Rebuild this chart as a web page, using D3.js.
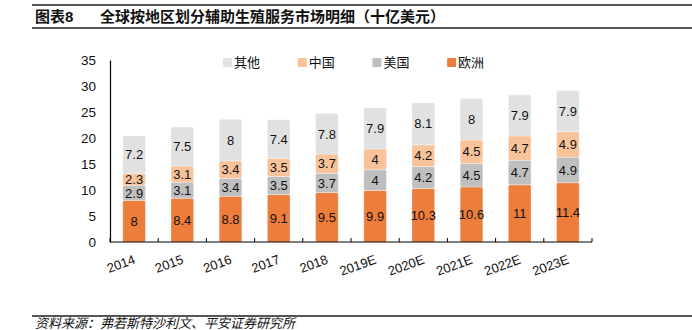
<!DOCTYPE html>
<html>
<head>
<meta charset="utf-8">
<script src="https://cdn.jsdelivr.net/npm/d3@7"></script>
<style>
  body { margin: 0; background: #fff; }
  svg { display: block; font-family: "Liberation Sans", Arial, "Noto Sans CJK SC", sans-serif; }
</style>
</head>
<body>
<svg id="chart" width="692" height="330"></svg>
<script>
// chart data
const years = ['2014', '2015', '2016', '2017', '2018', '2019E', '2020E', '2021E', '2022E', '2023E'];
const europe = [8, 8.4, 8.8, 9.1, 9.5, 9.9, 10.3, 10.6, 11, 11.4];
const usa = [2.9, 3.1, 3.4, 3.5, 3.7, 4, 4.2, 4.5, 4.7, 4.9];
const china = [2.3, 3.1, 3.4, 3.5, 3.7, 4, 4.2, 4.5, 4.7, 4.9];
const other = [7.2, 7.5, 8, 7.4, 7.8, 7.9, 8.1, 8, 7.9, 7.9];
const yTicks = [0, 5, 10, 15, 20, 25, 30, 35];

const seriesNames = ['欧洲', '美国', '中国', '其他'];
const legendOrder = ['其他', '中国', '美国', '欧洲'];
const colors = {
    '欧洲': '#ed7d3a',
    '美国': '#bfbfbf',
    '中国': '#f8c39b',
    '其他': '#e1e1e1'
};

const rows = years.map((y, i) => ({
    year: y, '欧洲': europe[i], '美国': usa[i], '中国': china[i], '其他': other[i]
}));
const stacked = d3.stack().keys(seriesNames)(rows);

const svg = d3.select('#chart');
const margin = {left: 110, right: 100, top: 60, bottom: 88};
const W = 692, H = 330;

const x = d3.scaleBand().domain(years)
    .range([margin.left, W - margin.right]).paddingInner(0.53).paddingOuter(0.265);
const y = d3.scaleLinear().domain([0, 35]).range([H - margin.bottom, margin.top]);

// header and footer rules
const rule = (yy) => svg.append('line')
    .attr('x1', 32).attr('x2', 692).attr('y1', yy).attr('y2', yy)
    .attr('stroke', '#555').attr('stroke-width', 2);
rule(5);
rule(28);
rule(316);

svg.append('text').attr('x', 35).attr('y', 22)
    .attr('font-size', 15).attr('font-weight', 'bold').attr('fill', '#111')
    .text('图表8');
svg.append('text').attr('x', 100).attr('y', 22)
    .attr('font-size', 15).attr('font-weight', 'bold').attr('fill', '#111')
    .text('全球按地区划分辅助生殖服务市场明细（十亿美元）');

svg.append('text').attr('x', 35).attr('y', 328)
    .attr('font-size', 13).attr('font-style', 'italic').attr('fill', '#111')
    .text('资料来源：弗若斯特沙利文、平安证券研究所');

// bars
const layer = svg.append('g').selectAll('g').data(stacked).join('g')
    .attr('fill', d => colors[d.key]);
layer.selectAll('rect').data(d => d).join('rect')
    .attr('x', d => x(d.data.year))
    .attr('y', d => y(d[1]))
    .attr('width', x.bandwidth())
    .attr('height', d => y(d[0]) - y(d[1]))
    .attr('rx', 1.5)
    .attr('stroke', '#fff').attr('stroke-opacity', 0.5).attr('stroke-width', 0.6);

// value labels
stacked.forEach(s => {
    svg.append('g').selectAll('text').data(s).join('text')
        .attr('x', d => x(d.data.year) + x.bandwidth() / 2)
        .attr('y', d => (y(d[0]) + y(d[1])) / 2)
        .attr('dy', '0.36em')
        .attr('text-anchor', 'middle')
        .attr('font-size', 13).attr('fill', '#111')
        .text(d => d.data[s.key]);
});

// y axis
const yAxis = svg.append('g')
    .attr('transform', `translate(${margin.left},0)`)
    .call(d3.axisLeft(y).tickValues(yTicks).tickSize(0).tickPadding(14));
yAxis.select('.domain').attr('stroke', '#000').attr('stroke-width', 1.2);
yAxis.selectAll('text').attr('font-size', 13.5).attr('fill', '#111')
    .style('font-family', '"Liberation Sans", Arial, sans-serif');

// x axis: line with ticks at band boundaries
const x0 = margin.left, x1 = W - margin.right, step = x.step();
svg.append('line').attr('x1', x0).attr('x2', x1)
    .attr('y1', y(0)).attr('y2', y(0)).attr('stroke', '#000').attr('stroke-width', 1.2);
svg.append('g').selectAll('line').data(d3.range(years.length + 1)).join('line')
    .attr('x1', i => x0 + i * step).attr('x2', i => x0 + i * step)
    .attr('y1', y(0)).attr('y2', y(0) - 4)
    .attr('stroke', '#000').attr('stroke-width', 1);
svg.append('g').selectAll('text').data(years).join('text')
    .attr('transform', d => `translate(${x(d) + x.bandwidth() / 2 + 2},${y(0) + 21}) rotate(-20)`)
    .attr('text-anchor', 'end')
    .attr('font-size', 13).attr('fill', '#111')
    .text(d => d);

// legend
const legend = svg.append('g').selectAll('g').data(legendOrder).join('g')
    .attr('transform', (d, i) => `translate(${223 + i * 74.7},58)`);
legend.append('rect').attr('width', 9).attr('height', 9).attr('rx', 1)
    .attr('fill', d => colors[d]);
legend.append('text').attr('x', 11).attr('y', 9)
    .attr('font-size', 13).attr('fill', '#111')
    .text(d => d);
</script>
</body>
</html>
